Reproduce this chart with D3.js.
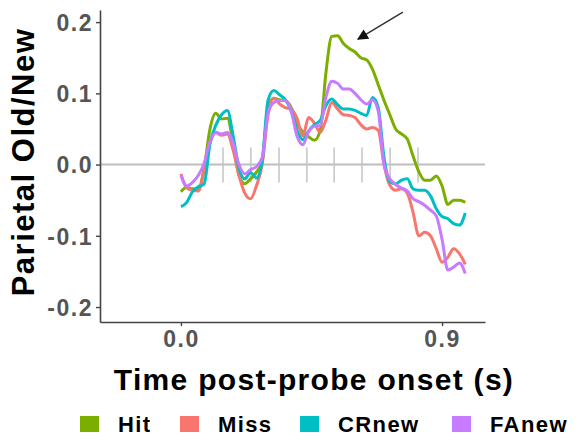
<!DOCTYPE html>
<html>
<head>
<meta charset="utf-8">
<script src="https://cdn.jsdelivr.net/npm/d3@7"></script>
<style>
body { margin: 0; background: #fff; }
svg { font-family: "Liberation Sans", Arial, sans-serif; }
</style>
</head>
<body>
<svg id="chart" width="583" height="440"></svg>
<script>
// time grid (s) and condition waveforms
var times = d3.range(0, 50).map(function (i) { return +(i * 0.02).toFixed(2) })

var hit = [-0.038, -0.032, -0.034, -0.034, -0.005, 0.05, 0.072, 0.064, 0.065, 0.03,
    -0.015, -0.027, -0.02, -0.011, 0.005, 0.08, 0.093, 0.091, 0.09, 0.08,
    0.057, 0.046, 0.039, 0.034, 0.048, 0.13, 0.18, 0.181, 0.17, 0.163,
    0.158, 0.15, 0.147, 0.134, 0.112, 0.09, 0.07, 0.05, 0.043, 0.036,
    0.012, -0.01, -0.022, -0.022, -0.016, -0.03, -0.056, -0.05, -0.05, -0.053]

var miss = [-0.013, -0.033, -0.036, -0.037, -0.008, 0.03, 0.045, 0.041, 0.043, 0.02,
    -0.015, -0.04, -0.048, -0.03, 0.0, 0.07, 0.093, 0.085, 0.08, 0.078,
    0.065, 0.04, 0.066, 0.058, 0.045, 0.063, 0.087, 0.078, 0.07, 0.069,
    0.066, 0.056, 0.05, 0.052, 0.048, 0.0, -0.029, -0.036, -0.034, -0.04,
    -0.067, -0.1, -0.095, -0.1, -0.118, -0.137, -0.13, -0.118, -0.125, -0.14]

var crNew = [-0.059, -0.053, -0.038, -0.031, -0.027, 0.029, 0.055, 0.07, 0.076, 0.04,
    -0.005, -0.02, -0.011, -0.019, 0.005, 0.09, 0.104, 0.098, 0.091, 0.075,
    0.048, 0.035, 0.047, 0.056, 0.062, 0.083, 0.092, 0.084, 0.078, 0.078,
    0.076, 0.072, 0.069, 0.094, 0.08, 0.01, -0.024, -0.027, -0.022, -0.02,
    -0.034, -0.036, -0.036, -0.044, -0.062, -0.073, -0.076, -0.083, -0.085, -0.068]

var faNew = [-0.015, -0.03, -0.025, -0.015, 0.002, 0.032, 0.045, 0.043, 0.045, 0.03,
    0.0, -0.013, -0.007, -0.003, 0.01, 0.072, 0.087, 0.09, 0.09, 0.075,
    0.04, 0.028, 0.046, 0.054, 0.055, 0.095, 0.117, 0.114, 0.106, 0.106,
    0.1, 0.091, 0.085, 0.091, 0.075, 0.0, -0.02, -0.028, -0.033, -0.037,
    -0.048, -0.052, -0.057, -0.064, -0.072, -0.105, -0.148, -0.144, -0.138, -0.153]

var seriesNames = ['Hit', 'Miss', 'CRnew', 'FAnew']
var seriesColors = ['#7CAE00', '#F8766D', '#00BFC4', '#C77CFF']
var seriesValues = [hit, miss, crNew, faNew]

// short grey marks along the zero line
var markTimes = [0.145, 0.241, 0.338, 0.434, 0.528, 0.624, 0.721, 0.817]

var yTicks = [-0.2, -0.1, 0.0, 0.1, 0.2]
var xTicks = [0.0, 0.9]

var svg = d3.select('#chart')

var x = d3.scaleLinear().domain([-0.279, 1.048]).range([100, 485])
var y = d3.scaleLinear().domain([-0.221, 0.217]).range([322, 10])

// zero reference line
svg.append('line')
    .attr('x1', x.range()[0]).attr('x2', x.range()[1])
    .attr('y1', y(0)).attr('y2', y(0))
    .attr('stroke', '#bdbdbd').attr('stroke-width', 2)

svg.append('g').selectAll('line')
    .data(markTimes)
    .join('line')
    .attr('x1', d => x(d)).attr('x2', d => x(d))
    .attr('y1', y(0.024)).attr('y2', y(-0.025))
    .attr('stroke', '#c4c4c4').attr('stroke-width', 1.5)

// axes
var yAxis = svg.append('g')
    .attr('transform', 'translate(' + x.range()[0] + ',0)')
    .call(d3.axisLeft(y).tickValues(yTicks).tickFormat(d => d.toFixed(1)).tickSize(4).tickSizeOuter(0))

var xAxis = svg.append('g')
    .attr('transform', 'translate(0,' + y.range()[0] + ')')
    .call(d3.axisBottom(x).tickValues(xTicks).tickFormat(d => d.toFixed(1)).tickSize(4).tickSizeOuter(0))

svg.selectAll('.domain').attr('stroke', '#444').attr('stroke-width', 1.6)
svg.selectAll('.tick line').attr('stroke', '#444').attr('stroke-width', 1.4)
svg.selectAll('.tick text')
    .attr('fill', '#555')
    .style('font-size', '23px')
    .style('font-weight', 'bold')
    .style('letter-spacing', '1.5px')

yAxis.selectAll('.tick text').attr('x', -7).attr('dy', '0.36em')
xAxis.selectAll('.tick text').attr('y', 9).attr('dy', '0.71em')

// axis titles
svg.append('text')
    .attr('x', 314).attr('y', 390)
    .attr('text-anchor', 'middle')
    .style('font-size', '30px').style('font-weight', 'bold')
    .style('letter-spacing', '1.3px')
    .attr('fill', '#000')
    .text('Time post-probe onset (s)')

svg.append('text')
    .attr('transform', 'translate(34,162) rotate(-90)')
    .attr('text-anchor', 'middle')
    .style('font-size', '31px').style('font-weight', 'bold')
    .style('letter-spacing', '1.5px')
    .attr('fill', '#000')
    .text('Parietal Old/New')

// waveforms
var line = d3.line()
    .x((d, i) => x(times[i]))
    .y(d => y(d))
    .curve(d3.curveMonotoneX)

svg.append('g')
    .attr('fill', 'none')
    .attr('stroke-width', 3)
    .attr('stroke-linejoin', 'round')
    .selectAll('path')
    .data(seriesValues)
    .join('path')
    .attr('stroke', (d, i) => seriesColors[i])
    .attr('d', line)

// arrow pointing at the Hit peak
svg.append('defs').append('marker')
    .attr('id', 'arrowhead')
    .attr('viewBox', '0 0 10 10')
    .attr('refX', 9).attr('refY', 5)
    .attr('markerWidth', 12).attr('markerHeight', 11)
    .attr('markerUnits', 'userSpaceOnUse')
    .attr('orient', 'auto')
    .append('path')
    .attr('d', 'M0,0 L10,5 L0,10 z')
    .attr('fill', '#111')

svg.append('line')
    .attr('x1', x(0.765)).attr('y1', y(0.214))
    .attr('x2', x(0.61)).attr('y2', y(0.176))
    .attr('stroke', '#333').attr('stroke-width', 1.5)
    .attr('marker-end', 'url(#arrowhead)')

// legend
var legendX = [80, 180, 300, 452]
var legend = svg.append('g')
    .selectAll('g')
    .data(seriesNames)
    .join('g')
    .attr('transform', (d, i) => 'translate(' + legendX[i] + ',416)')

legend.append('rect')
    .attr('width', 19).attr('height', 16)
    .attr('fill', (d, i) => seriesColors[i])

legend.append('text')
    .attr('x', 38).attr('y', 16)
    .style('font-size', '22px').style('font-weight', 'bold')
    .style('letter-spacing', '1.4px')
    .attr('fill', '#000')
    .text(d => d)
</script>
</body>
</html>
